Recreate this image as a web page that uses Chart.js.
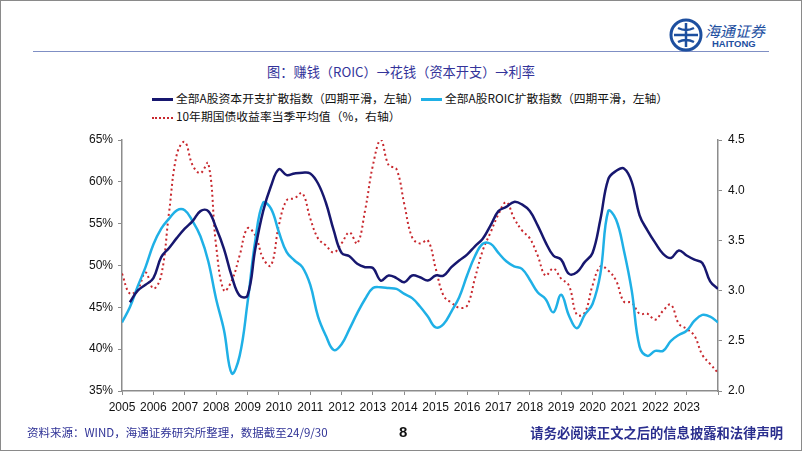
<!DOCTYPE html>
<html lang="zh">
  <head>
    <meta charset="UTF-8" />
    <title>赚钱（ROIC）→花钱（资本开支）→利率</title>
    <script src="https://cdn.jsdelivr.net/npm/chart.js"></script>
    <style>
      body {
        margin: 0;
        width: 802px;
        height: 451px;
        overflow: hidden;
        background: #fff;
        font-family: "Noto Sans CJK SC", "Liberation Sans", sans-serif;
      }
      .frame {
        position: absolute;
        left: 0;
        top: 0;
        width: 800px;
        height: 449px;
        border: 1px solid #8a8a8a;
      }
      .topline {
        position: absolute;
        left: 33px;
        top: 51px;
        width: 736px;
        height: 1px;
        background: #7f8fc4;
      }
      .logo-text {
        position: absolute;
        left: 705px;
        top: 20px;
        font-size: 15px;
        color: #1d4f9f;
        font-style: italic;
      }
      .logo-en {
        position: absolute;
        left: 712px;
        top: 38px;
        font-family: "Liberation Sans", Arial, sans-serif;
        font-weight: bold;
        font-size: 9.5px;
        color: #1d4f9f;
      }
      .title {
        position: absolute;
        left: 0;
        width: 802px;
        top: 62px;
        text-align: center;
        font-size: 13.2px;
        color: #33339a;
      }
      .legend {
        position: absolute;
        font-size: 11.8px;
        color: #111;
        white-space: nowrap;
      }
      .swatch {
        display: inline-block;
        width: 21px;
        height: 0;
        vertical-align: middle;
        margin-right: 3px;
      }
      .footer-left {
        position: absolute;
        left: 27px;
        top: 424px;
        font-size: 11.5px;
        color: #2f3296;
      }
      .page {
        position: absolute;
        left: 399px;
        top: 423px;
        font-family: "Liberation Sans", Arial, sans-serif;
        font-weight: bold;
        font-size: 15px;
        color: #111;
      }
      .footer-right {
        position: absolute;
        right: 19px;
        top: 423px;
        font-size: 13.3px;
        font-weight: bold;
        color: #2b2f8f;
      }
      #chart {
        position: absolute;
        left: 0;
        top: 0;
      }
    </style>
  </head>
  <body>
    <div class="frame"></div>
    <div class="topline"></div>
    <svg style="position:absolute;left:669px;top:18px" width="34" height="34" viewBox="0 0 34 34">
      <circle cx="17" cy="17" r="15" fill="none" stroke="#1d4f9f" stroke-width="3" />
      <path d="M5 17 H29 M17 5 V29 M9 10 Q17 14 25 10 M9 24 Q17 20 25 24" fill="none" stroke="#1d4f9f" stroke-width="2.5" />
    </svg>
    <div class="logo-text">海通证券</div>
    <div class="logo-en">HAITONG</div>

    <div class="title">图：赚钱（ROIC）→花钱（资本开支）→利率</div>

    <div class="legend" style="left:152px;top:89px">
      <span class="swatch" style="border-top:3px solid #17176f"></span>全部A股资本开支扩散指数（四期平滑，左轴）
    </div>
    <div class="legend" style="left:421px;top:89px">
      <span class="swatch" style="border-top:3px solid #1fb0e6"></span>全部A股ROIC扩散指数（四期平滑，左轴）
    </div>
    <div class="legend" style="left:152px;top:107px">
      <span class="swatch" style="border-top:2px dotted #c8282e"></span>10年期国债收益率当季平均值（%，右轴）
    </div>

    <canvas id="chart" width="802" height="451"></canvas>

    <div class="footer-left">资料来源：WIND，海通证券研究所整理，数据截至24/9/30</div>
    <div class="page">8</div>
    <div class="footer-right">请务必阅读正文之后的信息披露和法律声明</div>

    <script>
      // quarterly points, 2005Q1 .. 2024Q1
      const yearLabels = [
        "2005", "2006", "2007", "2008", "2009", "2010", "2011", "2012", "2013", "2014",
        "2015", "2016", "2017", "2018", "2019", "2020", "2021", "2022", "2023",
      ];

      // 全部A股资本开支扩散指数 (%), left axis
      const capexIndex = [
        null, 45.6, 47.0, 47.7, 48.5, 51.0, 52.1, 53.3, 54.4, 55.3,
        56.5, 56.5, 54.5, 52.0, 48.7, 46.4, 46.4, 52.0, 56.5, 59.5,
        61.5, 60.8, 61.0, 61.1, 61.0, 59.8, 57.5, 54.2, 51.5, 51.1,
        50.2, 49.8, 49.7, 48.2, 48.8, 48.5, 48.0, 48.8, 48.6, 48.2,
        48.8, 48.8, 49.8, 50.6, 51.3, 52.3, 53.2, 54.8, 56.5, 57.0,
        57.6, 57.3, 56.5, 54.8, 52.8, 51.2, 50.7, 49.0, 49.2, 50.4,
        51.5, 55.5, 60.3, 61.3, 61.6, 60.0, 56.0, 54.2, 52.7, 51.4,
        50.9, 51.8, 51.2, 50.7, 50.3, 48.1, 47.2,
      ];

      // 全部A股ROIC扩散指数 (%), left axis
      const roicIndex = [
        43.2, 45.0, 47.5, 49.8, 52.5, 54.4, 55.6, 56.6, 56.6, 55.3,
        53.5, 50.5, 46.0, 42.3, 37.1, 39.2, 45.5, 53.0, 57.5, 56.8,
        54.0, 51.6, 50.6, 49.8, 47.7, 43.9, 41.6, 39.9, 40.6, 42.4,
        44.3, 46.0, 47.3, 47.4, 47.3, 47.2, 46.6, 46.1, 45.1, 43.9,
        42.6, 43.0, 44.5, 46.2, 48.8, 51.1, 52.6, 52.6, 51.5, 50.5,
        49.9, 49.6, 48.3, 46.8, 46.0, 44.4, 46.5, 44.0, 42.5, 44.1,
        45.4, 49.0, 56.5, 55.5, 51.8, 47.0, 40.3, 39.2, 39.8, 39.8,
        41.0, 41.7, 42.2, 43.4, 44.1, 43.9, 43.2,
      ];

      // 10年期国债收益率当季平均值 (%), right axis
      const bondYield = [
        3.17, 2.97, 3.01, 3.18, 3.02, 3.15, 3.78, 4.36, 4.48, 4.25,
        4.17, 4.27, 3.45, 3.00, 3.10, 3.35, 3.62, 3.55, 3.32, 3.25,
        3.65, 3.90, 3.92, 3.97, 3.72, 3.52, 3.45, 3.38, 3.47, 3.58,
        3.47, 3.80, 4.25, 4.50, 4.25, 4.21, 3.86, 3.53, 3.47, 3.50,
        3.22, 2.95, 2.88, 2.83, 2.85, 3.12, 3.40, 3.58, 3.76, 3.88,
        3.72, 3.60, 3.52, 3.35, 3.15, 3.22, 3.12, 3.05, 2.76, 2.78,
        3.05, 3.24, 3.20, 3.10, 2.89, 2.88, 2.77, 2.77, 2.71, 2.80,
        2.86, 2.67, 2.62, 2.55, 2.36, 2.27, 2.18,
      ];

      const toPoints = (arr) => arr.map((v, i) => ({ x: i, y: v }));
      const axisGrey = "#8c8c8c";
      const tickFont = { family: "Liberation Sans, Arial, sans-serif", size: 12 };

      new Chart(document.getElementById("chart").getContext("2d"), {
        type: "line",
        data: {
          datasets: [
            {
              label: "全部A股资本开支扩散指数（四期平滑，左轴）",
              data: toPoints(capexIndex),
              borderColor: "#17176f",
              borderWidth: 2.5,
              yAxisID: "y",
            },
            {
              label: "全部A股ROIC扩散指数（四期平滑，左轴）",
              data: toPoints(roicIndex),
              borderColor: "#1fb0e6",
              borderWidth: 2.5,
              yAxisID: "y",
            },
            {
              label: "10年期国债收益率当季平均值（%，右轴）",
              data: toPoints(bondYield),
              borderColor: "#c8282e",
              borderWidth: 2,
              borderDash: [2, 3],
              yAxisID: "y1",
            },
          ],
        },
        options: {
          responsive: false,
          animation: false,
          layout: { padding: { top: 140, bottom: 0, left: 0, right: 0 } },
          elements: {
            point: { radius: 0 },
            line: { tension: 0.4, fill: false },
          },
          plugins: { legend: { display: false }, tooltip: { enabled: false } },
          scales: {
            x: {
              type: "linear",
              min: 0,
              max: 76,
              ticks: {
                stepSize: 4,
                padding: 5,
                color: "#111",
                font: tickFont,
                maxRotation: 0,
                autoSkip: false,
                callback: (v) => (v % 4 === 0 && yearLabels[v / 4]) || "",
              },
              grid: { drawOnChartArea: false, tickLength: 4, color: axisGrey },
              border: { color: axisGrey, width: 1.5 },
              afterFit: (s) => { s.height = 60; },
            },
            y: {
              position: "left",
              min: 35,
              max: 65,
              ticks: {
                stepSize: 5,
                padding: 5,
                color: "#111",
                font: tickFont,
                callback: (v) => v + "%",
              },
              grid: { drawOnChartArea: false, tickLength: 4, color: axisGrey },
              border: { color: axisGrey, width: 1.5 },
              afterFit: (s) => { s.width = 122; },
            },
            y1: {
              position: "right",
              min: 2,
              max: 4.5,
              ticks: {
                stepSize: 0.5,
                padding: 6,
                color: "#111",
                font: tickFont,
                callback: (v) => v.toFixed(1),
              },
              grid: { drawOnChartArea: false, tickLength: 4, color: axisGrey },
              border: { color: axisGrey, width: 1.5 },
              afterFit: (s) => { s.width = 84; },
            },
          },
        },
      });
    </script>
  </body>
</html>
